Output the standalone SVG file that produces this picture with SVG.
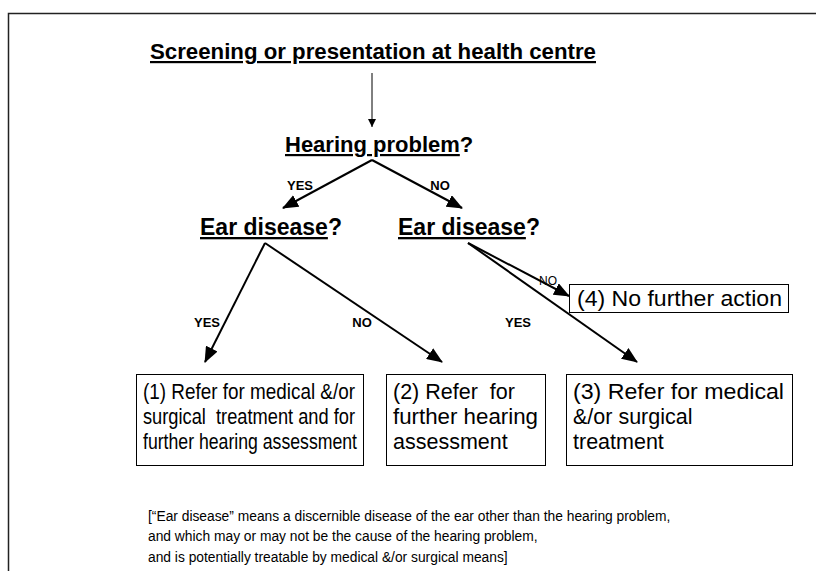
<svg xmlns="http://www.w3.org/2000/svg" width="816" height="571" viewBox="0 0 816 571">
<defs>
<marker id="small" markerWidth="8" markerHeight="8" refX="8" refY="4" orient="auto" markerUnits="userSpaceOnUse">
<path d="M0,0 L8,4 L0,8 Z" fill="#000"/>
</marker>
<marker id="big" markerWidth="16" markerHeight="13" refX="15" refY="6.5" orient="auto" markerUnits="userSpaceOnUse">
<path d="M0,0 L16,6.5 L0,13 Z" fill="#000"/>
</marker>
</defs>
<style>
text{font-family:"Liberation Sans",Arial,Helvetica,sans-serif;fill:#000}
.h{font-weight:bold;font-size:22px}
.e{font-weight:bold;font-size:23px}
.lab{font-weight:bold;font-size:13px}
.box{fill:#fff;stroke:#000;stroke-width:1}
.bt{font-size:21.5px}
.note{font-size:13.8px}
.c{stroke:#000;stroke-width:2;fill:none}
</style>
<rect x="8.5" y="13.5" width="820" height="570" fill="none" stroke="#222" stroke-width="1.5"/>
<g id="title"><text class="h" x="150" y="59" textLength="446" lengthAdjust="spacingAndGlyphs" text-decoration="underline">Screening or presentation at health centre</text></g>
<g id="hearing"><text class="h" x="285" y="152"><tspan text-decoration="underline">Hearing problem</tspan>?</text></g>
<g id="ear1"><text class="e" x="200" y="235"><tspan text-decoration="underline">Ear disease</tspan>?</text></g>
<g id="ear2"><text class="e" x="398" y="235"><tspan text-decoration="underline">Ear disease</tspan>?</text></g>
<g id="box4"><rect class="box" x="569.5" y="284.5" width="219" height="28"/><text class="bt" x="577" y="306" textLength="205" lengthAdjust="spacingAndGlyphs">(4) No further action</text></g>
<g id="box1"><rect class="box" x="136.5" y="374.5" width="227" height="91"/>
<text class="bt" x="143" y="399" textLength="212" lengthAdjust="spacingAndGlyphs">(1) Refer for medical &amp;/or</text>
<text class="bt" x="143" y="424" textLength="212" lengthAdjust="spacingAndGlyphs" xml:space="preserve">surgical  treatment and for</text>
<text class="bt" x="143" y="449" textLength="214" lengthAdjust="spacingAndGlyphs">further hearing assessment</text></g>
<g id="box2"><rect class="box" x="386.5" y="374.5" width="159" height="91"/>
<text class="bt" x="393" y="399" xml:space="preserve">(2) Refer  for</text>
<text class="bt" x="393" y="424" textLength="145" lengthAdjust="spacingAndGlyphs">further hearing</text>
<text class="bt" x="393" y="449">assessment</text></g>
<g id="box3"><rect class="box" x="566.5" y="374.5" width="226" height="91"/>
<text class="bt" x="573" y="399" textLength="211" lengthAdjust="spacingAndGlyphs">(3) Refer for medical</text>
<text class="bt" x="573" y="424">&amp;/or surgical</text>
<text class="bt" x="573" y="449">treatment</text></g>
<g id="connectors">
<line x1="372" y1="73" x2="372" y2="127" stroke="#000" stroke-width="1" marker-end="url(#small)"/>
<line class="c" x1="372" y1="160" x2="283" y2="208" marker-end="url(#big)"/>
<line class="c" x1="372" y1="160" x2="462" y2="208" marker-end="url(#big)"/>
<line class="c" x1="265" y1="243" x2="205" y2="362" marker-end="url(#big)"/>
<line class="c" x1="265" y1="243" x2="442" y2="362" marker-end="url(#big)"/>
<line class="c" x1="468" y1="243" x2="569" y2="296" marker-end="url(#big)"/>
<line class="c" x1="468" y1="243" x2="637" y2="362" marker-end="url(#big)"/>
</g>
<g id="labels">
<text class="lab" x="300" y="190" text-anchor="middle">YES</text>
<text class="lab" x="440" y="190" text-anchor="middle">NO</text>
<text class="lab" x="207" y="327" text-anchor="middle">YES</text>
<text class="lab" x="362" y="327" text-anchor="middle">NO</text>
<text class="lab" x="518" y="327" text-anchor="middle">YES</text>
<text x="548" y="285" text-anchor="middle" font-size="12">NO</text>
</g>
<g id="note">
<text class="note" x="148" y="521">[“Ear disease” means a discernible disease of the ear other than the hearing problem,</text>
<text class="note" x="148" y="541">and which may or may not be the cause of the hearing problem,</text>
<text class="note" x="148" y="562">and is potentially treatable by medical &amp;/or surgical means]</text>
</g>
</svg>
